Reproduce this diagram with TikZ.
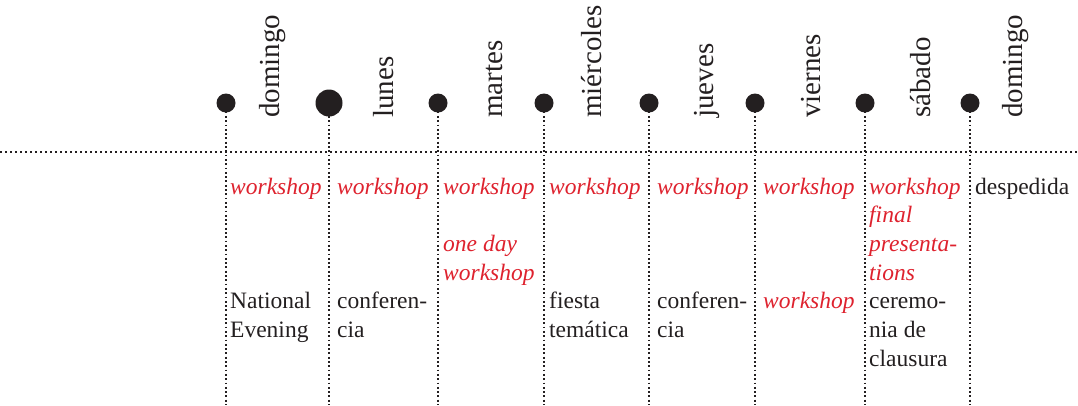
\documentclass[tikz,border=0pt]{standalone}
\usepackage{fontspec}
\setmainfont{Liberation Serif}
\definecolor{ink}{RGB}{35,31,32}
\definecolor{wred}{RGB}{222,34,46}
\tikzset{
  dotline/.style={ink, line width=1.8pt, dash pattern=on 1.8pt off 2.5pt},
  hdotline/.style={ink, line width=1.8pt, dash pattern=on 1.8pt off 3.2pt},
  daydot/.style={circle, fill=ink, inner sep=0pt, minimum size=19pt},
  bigdot/.style={circle, fill=ink, inner sep=0pt, minimum size=27pt},
  dayname/.style={rotate=90, anchor=base west, inner sep=0pt, text=ink,
    font=\fontsize{29}{34}\selectfont},
  event/.style={anchor=base west, inner sep=0pt, align=left, text=ink,
    font=\fontsize{23.5}{28.7}\selectfont},
  ws/.style={event, text=wred, font=\fontsize{23.5}{28.7}\selectfont\itshape},
}
\begin{document}
\begin{tikzpicture}[x=1pt, y=-1pt]
\useasboundingbox (0,0) rectangle (1078,405);
% horizontal line
\coordinate (hl) at (0,152);
\coordinate (hr) at (1078,152);
\draw[hdotline] (hl) -- (hr);
% dots
\node[daydot] (d1) at (226,103) {};
\node[bigdot] (d2) at (329,103) {};
\node[daydot] (d3) at (438,103) {};
\node[daydot] (d4) at (544,103) {};
\node[daydot] (d5) at (649,103) {};
\node[daydot] (d6) at (755,103) {};
\node[daydot] (d7) at (865,103) {};
\node[daydot] (d8) at (970,103) {};
\foreach \i/\x in {1/226,2/329,3/438,4/544,5/649,6/755,7/865,8/970}{
  \coordinate (b\i) at (\x,405);
  \draw[dotline] (d\i.center) -- (b\i);
}
% day names
\node[dayname] (n1) at (279,118) {domingo};
\node[dayname] (n2) at (393,118) {lunes};
\node[dayname] (n3) at (502,118) {martes};
\node[dayname] (n4) at (601,118) {miércoles};
\node[dayname] (n5) at (713,118) {jueves};
\node[dayname] (n6) at (820,118) {viernes};
\node[dayname] (n7) at (930,118) {sábado};
\node[dayname] (n8) at (1022,118) {domingo};
% events (multi-line nodes are anchored at the baseline of their last line)
\node[ws] (w1) at (230,194) {workshop};
\node[ws] (w2) at (337,194) {workshop};
\node[ws] (w3) at (443,194) {workshop};
\node[ws] (w4) at (549,194) {workshop};
\node[ws] (w5) at (657,194) {workshop};
\node[ws] (w6) at (763,194) {workshop};
\node[ws] (w7) at (869,280.1) {workshop\\final\\presenta-\\tions};
\node[event] (e8) at (975,194) {despedida};
\node[ws] (o3) at (443,280.1) {one day\\workshop};
\node[event] (e1) at (230,337.5) {National\\Evening};
\node[event] (e2) at (337,337.5) {conferen-\\cia};
\node[event] (e4) at (549,337.5) {fiesta\\temática};
\node[event] (e5) at (657,337.5) {conferen-\\cia};
\node[ws] (x6) at (763,308.8) {workshop};
\node[event] (e7) at (869,366.2) {ceremo-\\nia de\\clausura};
\end{tikzpicture}
\end{document}
